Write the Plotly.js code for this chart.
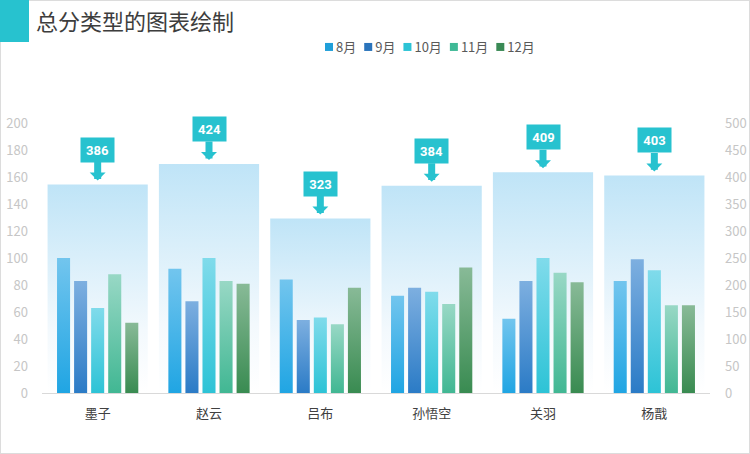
<!DOCTYPE html>
<html><head><meta charset="utf-8">
<script src="https://cdn.plot.ly/plotly-3.0.1.min.js"></script>
<style>
body{margin:0;background:#fff;}
#wrap{position:relative;width:750px;height:454px;}
#chart{width:750px;height:454px;}
#frame{position:absolute;left:0;top:0;width:750px;height:454px;box-sizing:border-box;border:1px solid #dcdcdc;pointer-events:none;}
#tab{position:absolute;left:0;top:0;width:29px;height:42px;background:#27c2cf;}
</style>
</head><body>
<div id="wrap"><div id="chart"></div><div id="frame"></div><div id="tab"></div></div>
<script>
const categories = ['墨子','赵云','吕布','孙悟空','关羽','杨戬'];
const months = ['8月','9月','10月','11月','12月'];
const aug = [100, 92, 84, 72, 55, 83];
const sep = [83, 68, 54, 78, 83, 99];
const oct = [63, 100, 56, 75, 100, 91];
const nov = [88, 83, 51, 66, 89, 65];
const dec = [52, 81, 78, 93, 82, 65];
const totals = [386, 424, 323, 384, 409, 403];
const leftTicks = [0,20,40,60,80,100,120,140,160,180,200];
const rightTicks = [0,50,100,150,200,250,300,350,400,450,500];

const series = [aug, sep, oct, nov, dec];
const legendColors = ['#1f9fd9','#2a73bb','#2cc3d5','#3fb996','#3a8a55'];
const gradTop = ['#72c5ee','#7dafe0','#80dbeb','#98d8c5','#88ba97'];
const gradBottom = ['#20a5e3','#2b7bc6','#2dc3d6','#41b793','#398b51'];
const teal = '#27c2cf';

const data = [
  {type:'bar', x:categories, y:totals, yaxis:'y', width:0.9,
   marker:{color:'#d4edf9'}, showlegend:false, hoverinfo:'skip'}
].concat(months.map((m,k)=>({
  type:'bar', name:m, x:categories, y:series[k], yaxis:'y2',
  marker:{color:legendColors[k]}
})));

const plotL = 42, plotR = 40, plotT = 123, plotB = 61;
const plotW = 750 - plotL - plotR, plotH = 454 - plotT - plotB;

const annotations = categories.map((c,i)=>({
  x:c, y:totals[i], xref:'x', yref:'y', text:String(totals[i]),
  showarrow:true, arrowhead:1, arrowsize:0.38, arrowwidth:7, arrowcolor:teal,
  ax:0, ay:-35, standoff:4, bgcolor:teal, width:29, height:20, borderpad:2,
  font:{size:13, color:'#ffffff', family:'Roboto, "DejaVu Sans", sans-serif', weight:'bold'}
}));

const tickFont = {size:13, color:'#c6c6c6'};
const layout = {
  width:750, height:454,
  margin:{l:plotL, r:plotR, t:plotT, b:plotB, pad:0},
  paper_bgcolor:'#ffffff', plot_bgcolor:'rgba(0,0,0,0)',
  font:{family:'"Noto Sans CJK SC", "Noto Sans", sans-serif'},
  title:{text:'总分类型的图表绘制', x:36/750, xref:'container', xanchor:'left',
         y:1-22/454, yref:'container', yanchor:'middle',
         font:{size:22, color:'#3d3d3d', weight:'normal'}},
  barmode:'group', bargap:0.234, bargroupgap:0.235,
  showlegend:true,
  legend:{orientation:'h', x:(325-plotL)/plotW, xanchor:'left',
          y:(454-plotB-47)/plotH, yanchor:'middle',
          font:{size:13, color:'#595959'}, bgcolor:'rgba(0,0,0,0)'},
  xaxis:{type:'category', showline:true, linecolor:'#d9d9d9', linewidth:1, ticks:'',
         tickfont:{size:13, color:'#404040'}, ticklabelstandoff:8,
         showgrid:false, zeroline:false},
  yaxis:{side:'right', range:[0,500], tickvals:rightTicks, showgrid:false, zeroline:false,
         showline:false, ticks:'', tickfont:tickFont, ticklabelstandoff:14},
  yaxis2:{overlaying:'y', side:'left', range:[0,200], tickvals:leftTicks, showgrid:false,
          zeroline:false, showline:false, ticks:'', tickfont:tickFont, ticklabelstandoff:13},
  annotations:annotations
};

Plotly.newPlot('chart', data, layout, {staticPlot:true, displayModeBar:false}).then(gd=>{
  const NS = 'http://www.w3.org/2000/svg';
  const svg = gd.querySelector('svg.main-svg');
  let defs = svg.querySelector('defs');
  if(!defs){defs = document.createElementNS(NS,'defs'); svg.insertBefore(defs, svg.firstChild);}
  function addGrad(id, stops){
    const lg = document.createElementNS(NS,'linearGradient');
    lg.setAttribute('id', id);
    lg.setAttribute('x1','0'); lg.setAttribute('y1','0');
    lg.setAttribute('x2','0'); lg.setAttribute('y2','1');
    stops.forEach(s=>{
      const st = document.createElementNS(NS,'stop');
      st.setAttribute('offset', s[0]); st.setAttribute('stop-color', s[1]);
      lg.appendChild(st);
    });
    defs.appendChild(lg);
  }
  addGrad('cgrad0', [[0,'#bfe4f7'],[0.7,'#f3f9fd'],[1,'#ffffff']]);
  for(let k=0;k<months.length;k++){
    addGrad('cgrad'+(k+1), [[0,gradTop[k]],[1,gradBottom[k]]]);
  }
  gd.querySelectorAll('.barlayer .trace').forEach(g=>{
    const d = g.__data__;
    const idx = (d && d[0] && d[0].trace) ? d[0].trace.index : null;
    if(idx===null) return;
    g.querySelectorAll('path').forEach(p=>{ p.style.fill = 'url(#cgrad'+idx+')'; });
  });
  // compact legend
  let x = 0;
  gd.querySelectorAll('.legend .traces').forEach(g=>{
    const tr = g.getAttribute('transform') || '';
    const m = /translate\(\s*([-\d.e]+)[\s,]*([-\d.e]+)?\s*\)/.exec(tr);
    const y = m && m[2] ? parseFloat(m[2]) : 0;
    g.querySelectorAll('path').forEach(p=>{
      p.setAttribute('d','M4,4H-4V-4H4Z');
      p.setAttribute('transform','translate(4,0)');
    });
    const t = g.querySelector('text.legendtext');
    t.setAttribute('x', 11);
    t.querySelectorAll('tspan').forEach(s=>{ if(s.hasAttribute('x')) s.setAttribute('x', 11); });
    const w = t.getComputedTextLength();
    g.setAttribute('transform', 'translate('+x+','+y+')');
    x += 11 + w + 8;
  });
});
</script>
</body></html>
